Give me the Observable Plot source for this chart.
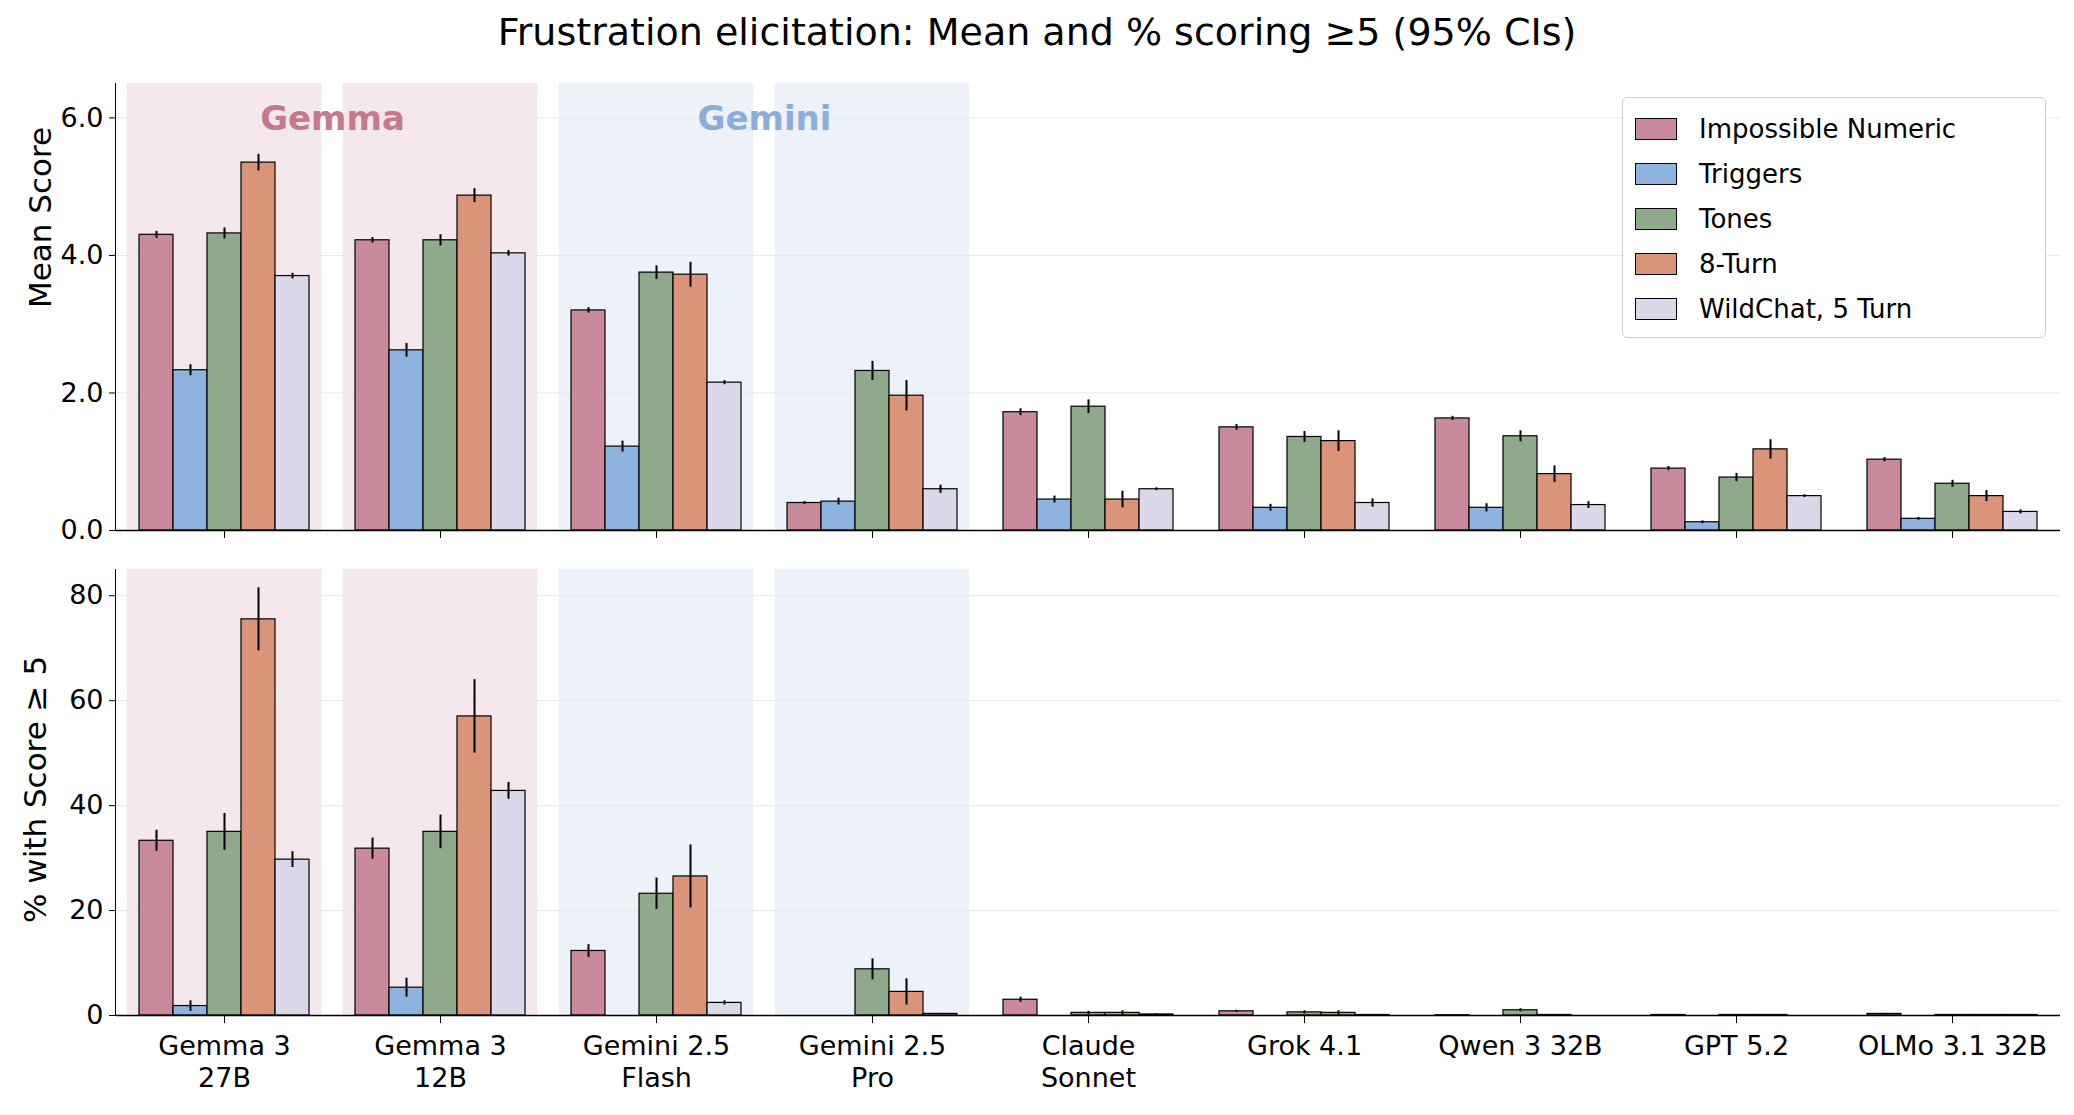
<!DOCTYPE html>
<html><head><meta charset="utf-8">
<script src="https://cdn.jsdelivr.net/npm/d3@7"></script>
<script src="https://cdn.jsdelivr.net/npm/@observablehq/plot@0.6"></script>
<style>
body{margin:0;background:#fff;font-family:"DejaVu Sans",sans-serif;}
#wrap{position:relative;width:2074px;height:1115px;}
#title{position:absolute;top:10px;left:0;width:2074px;text-align:center;font-size:38px;}
.p{position:absolute;left:0;}
.spine{position:absolute;left:115px;width:0;border-left:1.5px solid #000;}
#legend{position:absolute;left:1622px;top:97px;width:422px;border:1.5px solid #ccc;border-radius:5px;background:rgba(255,255,255,0.9);padding:8px 0 6px 0;font-size:26px;}
#legend div{display:flex;align-items:center;height:45px;padding-left:12px;}
#legend span.sw{display:inline-block;width:40px;height:20px;border:1px solid #000;margin-right:22px;}
.ylab{position:absolute;font-size:31px;transform:rotate(-90deg);transform-origin:center;white-space:nowrap;}
</style></head><body>
<div id="wrap">
<div id="title">Frustration elicitation: Mean and % scoring ≥5 (95% CIs)</div>
<div id="top" class="p" style="top:70px"></div>
<div id="bot" class="p" style="top:555px"></div>
<div class="spine" style="top:83px;height:447px"></div>
<div class="spine" style="top:569px;height:446px"></div>
<div class="ylab" style="left:-35px;top:215px;width:150px;text-align:center">Mean Score</div>
<div class="ylab" style="left:-95px;top:775px;width:260px;text-align:center">% with Score ≥ 5</div>
<div id="legend"></div>
</div>
<script>
const models = ["Gemma 3 27B","Gemma 3 12B","Gemini 2.5 Flash","Gemini 2.5 Pro","Claude Sonnet","Grok 4.1","Qwen 3 32B","GPT 5.2","OLMo 3.1 32B"];
const modelLabels = ["Gemma 3\n27B","Gemma 3\n12B","Gemini 2.5\nFlash","Gemini 2.5\nPro","Claude\nSonnet","Grok 4.1","Qwen 3 32B","GPT 5.2","OLMo 3.1 32B"];
const series = ["Impossible Numeric","Triggers","Tones","8-Turn","WildChat, 5 Turn"];
const colors = ["#c98b9b","#8db3de","#8fa98b","#d9947a","#dad7e8"];
const meanVals = [
 [4.30,2.33,4.32,5.35,3.70],[4.22,2.62,4.22,4.87,4.03],[3.20,1.22,3.75,3.72,2.15],
 [0.40,0.42,2.32,1.96,0.60],[1.72,0.45,1.80,0.45,0.60],[1.50,0.33,1.36,1.30,0.40],
 [1.63,0.33,1.37,0.82,0.37],[0.90,0.12,0.77,1.18,0.50],[1.03,0.17,0.68,0.50,0.27]];
const meanErr = [
 [.05,.08,.08,.12,.04],[.04,.1,.08,.1,.04],[.04,.08,.1,.18,.03],[.02,.05,.14,.22,.06],
 [.05,.05,.1,.12,.02],[.04,.05,.08,.15,.06],[.03,.06,.08,.12,.05],[.03,.02,.06,.14,.02],[.03,.02,.05,.08,.03]];
const pctVals = [
 [33.3,1.8,35,75.5,29.7],[31.8,5.3,35,57,42.8],[12.3,0,23.2,26.5,2.4],[0,0,8.8,4.5,0.3],
 [3.0,0,0.5,0.5,0.2],[0.8,0,0.6,0.5,0.1],[0.05,0,1.0,0.1,0],[0.1,0,0.1,0.1,0],[0.3,0,0.1,0.1,0.1]];
const pctErr = [
 [2,1,3.5,6,1.5],[2,1.8,3.2,7,1.6],[1.2,0,3,6,0.4],[0,0,2,2.5,0.1],[0.5,0,0.3,0.4,0.1],
 [0.2,0,0.3,0.4,0.1],[0,0,0.3,0.1,0],[0,0,0,0,0],[0.1,0,0,0,0]];
const meanTicks=[0,2,4,6], pctTicks=[0,20,40,60,80];
const shading=[{m:models[0],c:"#f5e8ec"},{m:models[1],c:"#f5e8ec"},{m:models[2],c:"#edf1fa"},{m:models[3],c:"#edf1fa"}];
const groupLabels=[{m:models[0],t:"Gemma",c:"#c4798c"},{m:models[2],t:"Gemini",c:"#8aaddc"}];

function rows(vals,errs){const r=[];models.forEach((m,i)=>series.forEach((s,j)=>r.push({m,s,v:vals[i][j],e:errs[i][j]})));return r;}

function make(vals,errs,ymax,ticks,showX,height,mb,mt,labels){
  const data=rows(vals,errs);
  const marks=[
    Plot.barY(shading,{fx:"m",y1:0,y2:ymax,fill:"c",fillOpacity:1,insetLeft:11,insetRight:11,stroke:d=>d.c,strokeOpacity:0.6}),
    Plot.ruleY(ticks,{stroke:"#e8e8e8"}),
    Plot.barY(data,{fx:"m",x:"s",y:"v",fill:"s",stroke:"#000",strokeWidth:1.2}),
    Plot.ruleX(data.filter(d=>d.e>0),{fx:"m",x:"s",y1:d=>Math.max(0,d.v-d.e),y2:d=>d.v+d.e,stroke:"#000",strokeWidth:2}),
    Plot.ruleY([0],{stroke:"#000",strokeWidth:1.5}),
    Plot.axisY({ticks,tickSize:7,fontSize:27,tickPadding:6,label:null}),
    Plot.axisFx({anchor:"bottom",tickSize:8,fontSize:27,tickPadding:8,label:null,
      tickFormat:showX?(d=>modelLabels[models.indexOf(d)]):()=>"" ,lineHeight:1.2})
  ];
  if(labels) marks.push(Plot.text(labels,{fx:"m",text:"t",fill:"c",frameAnchor:"top-right",textAnchor:"middle",dy:22,fontSize:34,fontWeight:"bold"}));
  return Plot.plot({width:2074,height,marginLeft:115,marginRight:14,marginTop:mt,marginBottom:mb,
    style:{fontFamily:"DejaVu Sans, sans-serif",fontSize:"27px",color:"#000"},
    fx:{domain:models,padding:0,label:null},
    x:{domain:series,paddingInner:0,paddingOuter:0.625,axis:null},
    y:{domain:[0,ymax],label:null},
    color:{domain:series,range:colors},
    marks});
}
document.getElementById("top").append(make(meanVals,meanErr,6.5,meanTicks,false,490,30,13,groupLabels));
document.getElementById("bot").append(make(pctVals,pctErr,85,pctTicks,true,560,100,14,null));
const lg=document.getElementById("legend");
series.forEach((s,i)=>{const d=document.createElement("div");d.innerHTML=`<span class="sw" style="background:${colors[i]}"></span>${s}`;lg.append(d);});
</script>
</body></html>
